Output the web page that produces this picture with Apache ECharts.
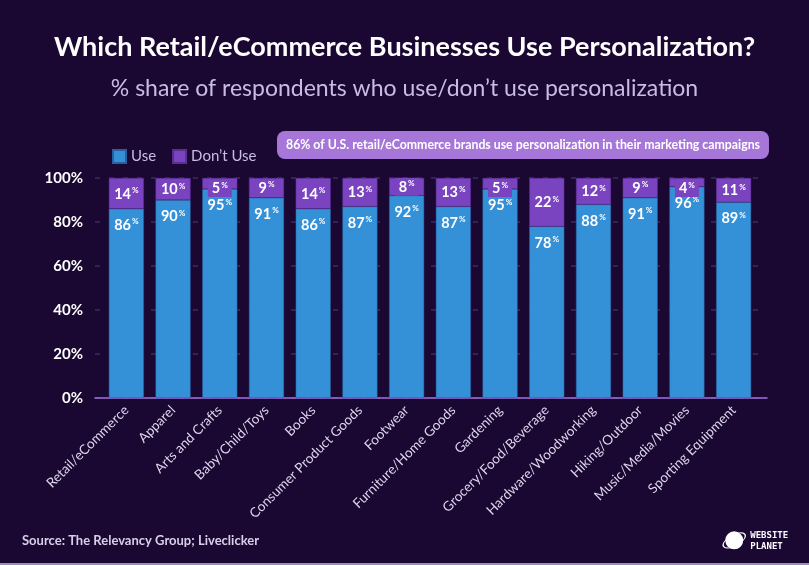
<!DOCTYPE html>
<html><head><meta charset="utf-8">
<script src="https://cdn.jsdelivr.net/npm/echarts@6/dist/echarts.min.js"></script>
<style>html,body{margin:0;padding:0;background:#1a0833;}#c{width:809px;height:565px;}</style>
</head><body><div id="c"></div>
<script>
const categories = ['Retail/eCommerce','Apparel','Arts and Crafts','Baby/Child/Toys','Books','Consumer Product Goods','Footwear','Furniture/Home Goods','Gardening','Grocery/Food/Beverage','Hardware/Woodworking','Hiking/Outdoor','Music/Media/Movies','Sporting Equipment'];
const useVals = [86,90,95,91,86,87,92,87,95,78,88,91,96,89];
const dontUseVals = [14,10,5,9,14,13,8,13,5,22,12,9,4,11];
const yTicks = [0,20,40,60,80,100];

const BLUE = '#3491d8', PURPLE = '#7a43c0', FONT = 'Lato';
const chart = echarts.init(document.getElementById('c'));
const pctRich = {
  n: {color:'#fff', fontFamily:FONT, fontWeight:'bold', fontSize:14.5},
  p: {color:'#fff', fontFamily:FONT, fontWeight:'bold', fontSize:8, verticalAlign:'top', padding:[0,0,0,1]}
};
const dontData = dontUseVals.map(v => v <= 5
  ? {value:v, label:{position:'insideTop', distance:1}}
  : v);
chart.setOption({
  backgroundColor: '#1a0833',
  title: [
    {text:'Which Retail/eCommerce Businesses Use Personalization?', left:'center', top:29,
     textStyle:{color:'#fff', fontFamily:FONT, fontWeight:'bold', fontSize:27}},
    {text:'% share of respondents who use/don\u2019t use personalization', left:'center', top:72,
     textStyle:{color:'#c8bcdf', fontFamily:FONT, fontWeight:'normal', fontSize:23}},
    {text:'{b|86%}{n| of U.S. retail/eCommerce brands use personalization in their marketing campaigns}',
     left:277, top:131, backgroundColor:'#a677d8', borderRadius:8, padding:[8,9,8,9],
     textStyle:{rich:{b:{color:'#fff',fontFamily:FONT,fontWeight:'bold',fontSize:12.3},
                      n:{color:'#fff',fontFamily:FONT,fontSize:12.3}}}},
    {text:'Source: The Relevancy Group; Liveclicker', left:17, top:529,
     textStyle:{color:'#d8cfe8', fontFamily:FONT, fontWeight:'bold', fontSize:13}}
  ],
  legend: {
    left:107, top:144, icon:'rect', itemWidth:13, itemHeight:13, itemGap:16,
    textStyle:{color:'#c8bcdf', fontFamily:FONT, fontSize:15},
    data:['Use','Don\u2019t Use']
  },
  grid: [
    {left:95, right:42, top:178, bottom:167},
    {left:103, right:52, top:178, bottom:167}
  ],
  xAxis: [
    {gridIndex:0, type:'value', min:0, max:1, show:true,
     axisLine:{show:true, lineStyle:{color:'#a070e0', width:1.5}},
     axisTick:{show:false}, axisLabel:{show:false}, splitLine:{show:false}},
    {gridIndex:1, type:'category', data:categories,
     axisLine:{show:false}, axisTick:{show:false},
     axisLabel:{rotate:45, color:'#ddd5ec', fontFamily:FONT, fontSize:13.5, margin:10, interval:0}}
  ],
  yAxis: [
    {gridIndex:0, type:'value', min:0, max:100, interval:20,
     axisLine:{show:false}, axisTick:{show:false},
     axisLabel:{color:'#fff', fontFamily:FONT, fontWeight:'bold', fontSize:15, margin:12,
       formatter:v => yTicks.includes(v) ? v + '%' : ''},
     splitLine:{show:true, lineStyle:{color:'#3d2b5e', type:[5,9], width:1.5}}},
    {gridIndex:1, type:'value', min:0, max:100, show:false}
  ],
  series: [
    {name:'Use', type:'bar', stack:'s', xAxisIndex:1, yAxisIndex:1, data:useVals, barWidth:'75%',
     itemStyle:{color:BLUE, borderColor:'#2b5e9e', borderWidth:0.5},
     label:{show:true, position:'insideTop', distance:9, formatter:p => '{n|'+p.value+'}{p|%}', rich:pctRich}},
    {name:'Don\u2019t Use', type:'bar', stack:'s', xAxisIndex:1, yAxisIndex:1, data:dontData, barWidth:'75%',
     itemStyle:{color:PURPLE, borderColor:'#5a2f92', borderWidth:0.5},
     label:{show:true, position:'inside', backgroundColor:PURPLE, padding:[2,4,1,4],
       formatter:p => '{n|'+p.value+'}{p|%}', rich:pctRich}}
  ],
  graphic: [
    {type:'rect', shape:{x:0, y:563, width:809, height:2}, style:{fill:'#9c8cb9'}},
    {type:'group', left:720, top:529, children:[
      {type:'circle', shape:{cx:12, cy:12, r:9}, style:{fill:'#fff'}},
      {type:'ring', shape:{cx:12, cy:12, r:13, r0:11.5}, style:{fill:'#fff'}, scaleY:0.45, originX:12, originY:12, rotation:0.5},
      {type:'text', x:28, y:2, style:{text:'WEBSITE\nPLANET', fill:'#fff', font:'bold 9px "DejaVu Sans Mono"', lineHeight:11}}
    ]}
  ]
});
</script></body></html>
